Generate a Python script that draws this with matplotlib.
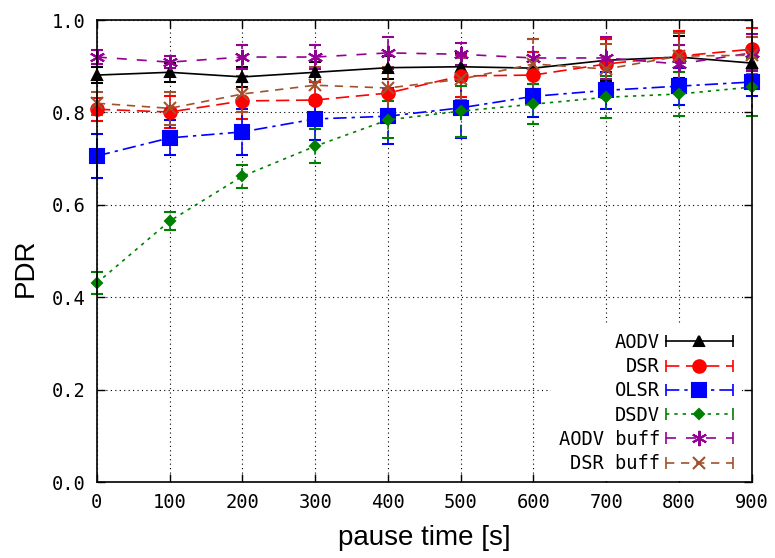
import numpy as np
import matplotlib
matplotlib.use('Agg')
import matplotlib.pyplot as plt
from matplotlib.lines import Line2D
from matplotlib.legend_handler import HandlerBase

pause = [0, 100, 200, 300, 400, 500, 600, 700, 800, 900]

aodv = [0.881, 0.887, 0.877, 0.887, 0.897, 0.899, 0.896, 0.913, 0.920, 0.907]
aodv_err = [0.018, 0.020, 0.022, 0.022, 0.025, 0.030, 0.035, 0.045, 0.045, 0.030]

dsr = [0.807, 0.801, 0.825, 0.827, 0.842, 0.879, 0.881, 0.905, 0.922, 0.937]
dsr_err = [0.025, 0.035, 0.040, 0.040, 0.045, 0.045, 0.050, 0.055, 0.055, 0.045]

olsr = [0.706, 0.745, 0.758, 0.786, 0.792, 0.810, 0.835, 0.848, 0.857, 0.866]
olsr_err = [0.047, 0.038, 0.050, 0.045, 0.060, 0.065, 0.045, 0.040, 0.040, 0.030]

dsdv = [0.431, 0.565, 0.662, 0.727, 0.784, 0.803, 0.818, 0.833, 0.840, 0.855]
dsdv_err = [0.024, 0.020, 0.025, 0.037, 0.040, 0.055, 0.043, 0.045, 0.047, 0.063]

aodv_buff = [0.920, 0.909, 0.920, 0.920, 0.929, 0.926, 0.918, 0.918, 0.905, 0.929]
aodv_buff_err = [0.015, 0.013, 0.025, 0.026, 0.035, 0.024, 0.040, 0.045, 0.040, 0.040]

dsr_buff = [0.820, 0.809, 0.840, 0.859, 0.853, 0.872, 0.905, 0.894, 0.922, 0.924]
dsr_buff_err = [0.025, 0.035, 0.040, 0.040, 0.045, 0.045, 0.055, 0.055, 0.050, 0.040]

series = [
    ('AODV', aodv, aodv_err, 'black', '-', '^', 7),
    ('DSR', dsr, dsr_err, '#ff0000', (0, (8, 4)), 'o', 9),
    ('OLSR', olsr, olsr_err, '#0000ff', (0, (8, 3, 2, 3)), 's', 9.5),
    ('DSDV', dsdv, dsdv_err, '#008000', (0, (2, 3)), 'D', 5.5),
    ('AODV buff', aodv_buff, aodv_buff_err, '#940094', (0, (6, 6)), (6, 2, 0), 11),
    ('DSR buff', dsr_buff, dsr_buff_err, '#a0522d', (0, (5, 4)), 'x', 9),
]


class CapHandler(HandlerBase):
    def create_artists(self, legend, orig, xd, yd, w, h, fs, trans):
        c, ls, mk, ms = orig
        y = h / 2.0 - yd
        x0, x1 = -xd, -xd + w
        line = Line2D([x0, x1], [y, y], color=c, linestyle=ls, lw=1.2)
        caps = Line2D([x0, x1], [y, y], color=c, linestyle='none',
                      marker='|', markersize=8, markeredgewidth=1.2)
        mark = Line2D([(x0 + x1) / 2.0], [y], color=c, linestyle='none',
                      marker=mk, markersize=ms, markeredgewidth=1.5)
        for a in (line, caps, mark):
            a.set_transform(trans)
        return [line, caps, mark]


fig = plt.figure(figsize=(7.75, 5.58), dpi=100)
ax = fig.add_axes([0.125, 0.136, 0.845, 0.828])

handles = []
for name, vals, errs, c, ls, mk, ms in series:
    eb = ax.errorbar(pause, vals, yerr=errs, color=c, linestyle=ls, lw=1.2,
                     marker=mk, markersize=ms, markeredgewidth=1.5,
                     capsize=4, elinewidth=1.2, capthick=1.2, clip_on=False,
                     zorder=3)
    eb[2][0].set_linestyle(ls)
    handles.append((c, ls, mk, ms))

ax.set_xlim(0, 900)
ax.set_ylim(0, 1.0)
ax.set_xticks(pause)
ax.set_yticks(np.arange(0, 1.01, 0.2))
ax.set_yticklabels(['%.1f' % v for v in np.arange(0, 1.01, 0.2)])
ax.grid(True, color='black', linestyle=(0, (1, 3)), lw=0.8)
ax.tick_params(direction='in', top=True, right=True, length=6, width=1,
               labelsize=13.5, pad=8)
for lab in ax.get_xticklabels() + ax.get_yticklabels():
    lab.set_family('DejaVu Sans Mono')
for sp in ax.spines.values():
    sp.set_linewidth(1.2)
    sp.set_zorder(6)

ax.set_xlabel('pause time [s]', family=['Liberation Sans', 'DejaVu Sans'],
              fontsize=20, labelpad=9)
ax.set_ylabel('PDR', family=['Liberation Sans', 'DejaVu Sans'], fontsize=20)
ax.yaxis.set_label_coords(-0.088, 0.465)

leg = ax.legend(handles, [s[0] for s in series],
                handler_map={tuple: CapHandler()},
                loc='lower right', markerfirst=False, frameon=True,
                facecolor='white', edgecolor='none', framealpha=1,
                prop={'family': 'DejaVu Sans Mono', 'size': 13.5},
                handlelength=3.6, labelspacing=0.28, borderaxespad=0.0,
                borderpad=0.4, handletextpad=0.3, fancybox=False,
                bbox_to_anchor=(0.983, 0.003))
leg.set_zorder(5)

fig.savefig('out.png', dpi=100)
